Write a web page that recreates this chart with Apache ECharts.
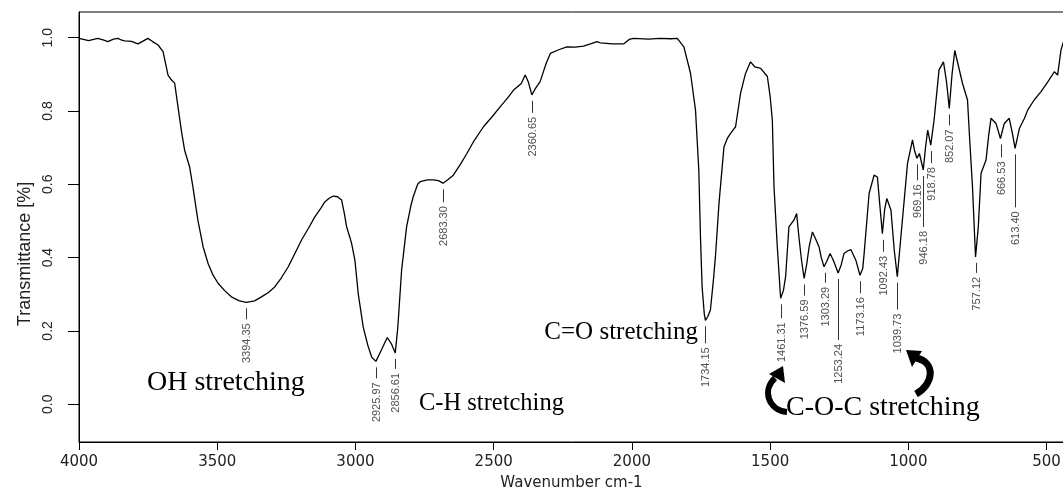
<!DOCTYPE html>
<html><head><meta charset="utf-8">
<script src="https://cdn.jsdelivr.net/npm/echarts@6/dist/echarts.min.js"></script>
<style>html,body{margin:0;padding:0;background:#fff}#c{width:1063px;height:493px}</style>
</head><body><div id="c"></div>
<script>
// ---- data ----
const wavenumber = [4000,3965,3932,3910,3896,3875,3859,3845,3835,3810,3787,3770,3751,3735,3714,3696,3678,3666,3654,3642,3630,3618,3600,3588,3570,3551,3533,3515,3497,3473,3449,3420,3394,3365,3340,3315,3292,3268,3243,3220,3195,3170,3147,3125,3111,3095,3080,3065,3050,3040,3032,3020,3014,3002,2990,2972,2955,2941,2926,2905,2885,2870,2856,2848,2845,2833,2815,2800,2791,2775,2766,2740,2718,2700,2683,2665,2646,2620,2597,2570,2537,2505,2476,2450,2428,2400,2386,2375,2362,2350,2332,2310,2295,2265,2235,2205,2175,2150,2126,2114,2070,2030,2010,1994,1940,1900,1860,1836,1812,1788,1770,1758,1752,1746,1738,1734,1725,1716,1705,1697,1685,1667,1655,1643,1625,1607,1590,1571,1555,1534,1510,1500,1492,1486,1474,1462,1452,1444,1432,1414,1404,1396,1386,1377,1368,1359,1347,1335,1323,1315,1305,1295,1283,1270,1254,1243,1233,1220,1208,1190,1175,1165,1160,1142,1124,1112,1104,1094,1086,1078,1063,1051,1040,1027,1003,985,977,969,960,946,938,930,919,907,889,873,862,852,842,832,818,804,786,778,768,757,747,737,719,710,701,683,667,653,635,624,614,598,580,568,545,520,495,472,460,448,437];
const transmittance = [0.998,0.992,0.998,0.993,0.989,0.996,0.998,0.993,0.991,0.990,0.983,0.990,0.998,0.990,0.980,0.962,0.898,0.885,0.876,0.812,0.748,0.693,0.648,0.593,0.502,0.429,0.384,0.352,0.330,0.310,0.293,0.282,0.278,0.282,0.293,0.305,0.320,0.345,0.375,0.410,0.448,0.480,0.511,0.535,0.552,0.562,0.568,0.566,0.557,0.520,0.484,0.455,0.439,0.393,0.302,0.211,0.160,0.128,0.117,0.150,0.182,0.165,0.140,0.200,0.229,0.366,0.484,0.540,0.566,0.600,0.607,0.612,0.612,0.610,0.603,0.613,0.625,0.655,0.684,0.720,0.757,0.785,0.812,0.835,0.857,0.875,0.898,0.880,0.844,0.860,0.880,0.930,0.957,0.967,0.975,0.974,0.977,0.983,0.989,0.986,0.983,0.983,0.995,0.998,0.996,0.998,0.997,0.998,0.975,0.903,0.803,0.639,0.457,0.320,0.245,0.229,0.240,0.257,0.340,0.411,0.548,0.702,0.725,0.739,0.757,0.848,0.900,0.934,0.920,0.916,0.894,0.840,0.775,0.593,0.429,0.289,0.310,0.348,0.484,0.502,0.520,0.457,0.390,0.343,0.380,0.429,0.470,0.450,0.429,0.400,0.375,0.390,0.411,0.390,0.358,0.380,0.411,0.418,0.422,0.393,0.352,0.370,0.411,0.575,0.625,0.620,0.550,0.465,0.530,0.561,0.530,0.420,0.348,0.457,0.657,0.721,0.690,0.671,0.684,0.639,0.700,0.748,0.707,0.775,0.912,0.934,0.880,0.807,0.900,0.965,0.920,0.875,0.830,0.720,0.593,0.402,0.484,0.630,0.666,0.730,0.780,0.766,0.725,0.766,0.780,0.740,0.698,0.753,0.780,0.803,0.830,0.853,0.880,0.907,0.898,0.966,0.994];
const xTicks = [4000,3500,3000,2500,2000,1500,1000,500];
const yTicks = [0,0.2,0.4,0.6,0.8,1.0];
const peakWavenumber = [3394.35,2925.97,2856.61,2683.30,2360.65,1734.15,1461.31,1376.59,1303.29,1253.24,1173.16,1092.43,1039.73,969.16,946.18,918.78,852.07,757.12,666.53,613.40];
const peakTransmittance = [0.278,0.117,0.140,0.603,0.844,0.229,0.289,0.343,0.375,0.358,0.352,0.465,0.348,0.671,0.639,0.707,0.807,0.402,0.725,0.698];
const peakLabels = ['3394.35','2925.97','2856.61','2683.30','2360.65','1734.15','1461.31','1376.59','1303.29','1253.24','1173.16','1092.43','1039.73','969.16','946.18','918.78','852.07','757.12','666.53','613.40'];
const xTitle = 'Wavenumber cm-1';
const yTitle = 'Transmittance [%]';
const bandNames = ['OH stretching','C-H stretching','C=O stretching','C-O-C stretching'];

// ---- layout (not data) ----
const peakLineLength = [11,11,10,13,12,17,14,11,10,61,12,12,27,16,51,12,11,10,13,53];

const chart = echarts.init(document.getElementById('c'), null, {renderer:'canvas'});
const specData = wavenumber.map((w,i)=>[w, transmittance[i]]);
const peakData = peakWavenumber.map((w,i)=>[w, peakTransmittance[i], peakLineLength[i]]);

const serif = '"Liberation Serif","Times New Roman",serif';
chart.setOption({
  animation:false,
  backgroundColor:'#fff',
  grid:{left:79, right:-1, top:12, bottom:51, show:true, borderColor:'#000', borderWidth:1, containLabel:false, outerBoundsMode:'none'},
  xAxis:{
    type:'value', inverse:true, min:437, max:4000,
    axisLine:{show:true, onZero:false, lineStyle:{color:'#000', width:1}},
    axisTick:{show:true, length:8, customValues:xTicks, lineStyle:{color:'#000'}},
    axisLabel:{customValues:xTicks, margin:13, color:'#222', fontSize:15, fontFamily:'"DejaVu Sans"', formatter:v=>String(v)},
    splitLine:{show:false},
    name:xTitle, nameLocation:'middle', nameGap:34,
    nameTextStyle:{color:'#222', fontSize:15, fontFamily:'"DejaVu Sans"'}
  },
  yAxis:{
    type:'value', min:-0.103, max:1.07,
    axisLine:{show:true, onZero:false, lineStyle:{color:'#000', width:1}},
    axisTick:{show:true, length:11, customValues:yTicks, lineStyle:{color:'#000'}},
    axisLabel:{customValues:yTicks, rotate:90, margin:24, color:'#222', fontSize:14, fontFamily:'"Liberation Sans"', formatter:v=>v.toFixed(1)},
    splitLine:{show:false}
  },
  graphic:[
    {type:'text', x:25, y:254, rotation:Math.PI/2, style:{text:yTitle, fill:'#222', font:'18px "Liberation Sans"', align:'center', verticalAlign:'middle'}},
    {type:'text', x:147, y:383, style:{text:bandNames[0], fill:'#000', font:'28px '+serif, align:'left', verticalAlign:'middle'}},
    {type:'text', x:419, y:404, style:{text:bandNames[1], fill:'#000', font:'24.5px '+serif, align:'left', verticalAlign:'middle'}},
    {type:'text', x:698, y:332, style:{text:bandNames[2], fill:'#000', font:'25px '+serif, align:'right', verticalAlign:'middle'}},
    {type:'text', x:786, y:408, style:{text:bandNames[3], fill:'#000', font:'28px '+serif, align:'left', verticalAlign:'middle'}},
    // curved arrows
    {type:'bezierCurve', shape:{x1:787, y1:412, cpx1:768, cpy1:410, cpx2:762, cpy2:390, x2:775, y2:378}, style:{fill:null, stroke:'#000', lineWidth:6}},
    {type:'polygon', shape:{points:[[783,366],[769,374],[785,383]]}, style:{fill:'#000'}},
    {type:'bezierCurve', shape:{x1:916, y1:394, cpx1:934, cpy1:384, cpx2:936, cpy2:362, x2:916, y2:358}, style:{fill:null, stroke:'#000', lineWidth:7}},
    {type:'polygon', shape:{points:[[906,350],[922,351],[912,367]]}, style:{fill:'#000'}}
  ],
  series:[
    {type:'line', data:specData, showSymbol:false, symbol:'none', lineStyle:{color:'#000', width:1.3}, z:3},
    {type:'custom', data:peakData, z:4, clip:false,
      renderItem:(params, api)=>{
        const p = api.coord([api.value(0), api.value(1)]);
        const x0 = Math.round(p[0]) + 0.5;
        const y0 = p[1] + 6, y1 = y0 + api.value(2);
        return {type:'group', children:[
          {type:'line', shape:{x1:x0, y1:y0, x2:x0, y2:y1}, style:{stroke:'#333', lineWidth:1}},
          {type:'text', x:x0, y:y1 + 4, rotation:Math.PI/2,
            style:{text:peakLabels[params.dataIndex], fill:'#505050', font:'11px "Liberation Sans"', align:'right', verticalAlign:'middle'}}
        ]};
      }
    }
  ]
});
</script></body></html>
